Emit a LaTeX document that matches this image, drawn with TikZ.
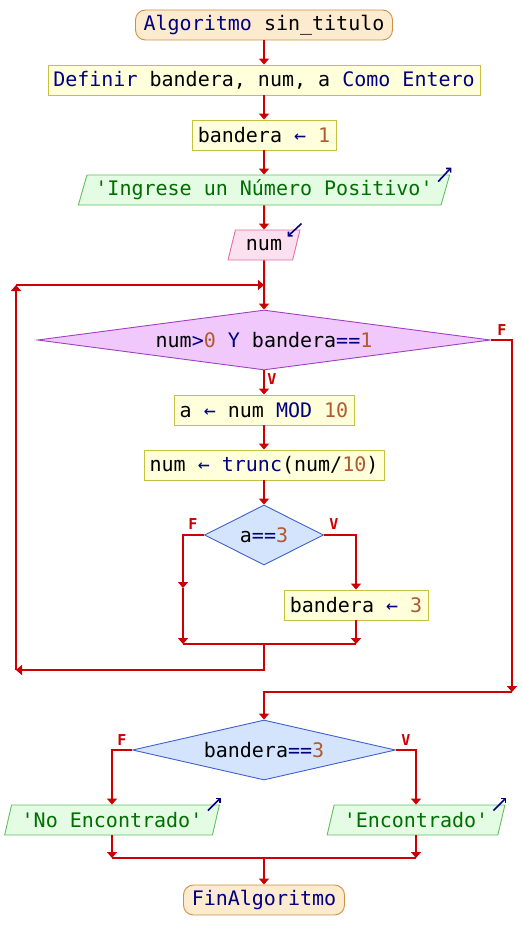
\documentclass[tikz,border=0pt]{standalone}
\usepackage{fontspec}
\setmonofont{DejaVu Sans Mono}
\usepackage{tikz}
\usetikzlibrary{shapes.geometric,arrows.meta,calc}

\definecolor{flujo}{RGB}{204,0,0}
\definecolor{clave}{RGB}{0,0,128}
\definecolor{numero}{RGB}{176,90,48}
\definecolor{cadena}{RGB}{0,110,0}
\newcommand{\kw}[1]{\textcolor{clave}{#1}}
\newcommand{\nm}[1]{\textcolor{numero}{#1}}
\newcommand{\cad}[1]{\textcolor{cadena}{#1}}

\tikzset{
	base/.style={font=\ttfamily\fontsize{20}{20}\selectfont, inner sep=0pt, minimum height=30pt, line width=0.9pt},
	extremo/.style={base, rectangle, rounded corners=10pt, draw={rgb,255:red,208;green,144;blue,64}, fill={rgb,255:red,253;green,235;blue,208}},
	asigna/.style={base, rectangle, draw={rgb,255:red,200;green,192;blue,64}, fill={rgb,255:red,255;green,255;blue,220}},
	salida/.style={base, trapezium, trapezium left angle=68, trapezium right angle=112, trapezium stretches=true, draw={rgb,255:red,96;green,192;blue,96}, fill={rgb,255:red,228;green,252;blue,228}},
	entrada/.style={base, trapezium, trapezium left angle=68, trapezium right angle=112, trapezium stretches=true, draw={rgb,255:red,224;green,112;blue,160}, fill={rgb,255:red,252;green,224;blue,240}},
	mientras/.style={base, diamond, minimum height=60pt, draw={rgb,255:red,160;green,64;blue,192}, fill={rgb,255:red,240;green,200;blue,252}},
	decide/.style={base, diamond, minimum height=60pt, draw={rgb,255:red,64;green,96;blue,208}, fill={rgb,255:red,212;green,228;blue,252}},
	linea/.style={draw=flujo, line width=2pt},
	flecha/.style={linea, -{Triangle[width=10pt,length=6pt]}},
	etiq/.style={text=flujo, font=\ttfamily\bfseries\fontsize{15}{15}\selectfont, inner sep=0pt},
	icono/.style={draw=clave, line width=1.6pt, -{Straight Barb[length=3pt,width=6pt]}}
}

\begin{document}
\begin{tikzpicture}[x=1pt, y=-1pt]
	\useasboundingbox (0,0) rectangle (522,950);

	% bloques
	\node (inicio) [extremo, minimum width=257pt] at (264,25) {\kw{Algoritmo} sin\_titulo};
	\node (defin) [asigna, minimum width=432pt] at (264,80) {\kw{Definir} bandera, num, a \kw{Como} \kw{Entero}};
	\node (asig1) [asigna, minimum width=144pt] at (264,135) {bandera \kw{←} \nm{1}};
	\node (escr1) [salida, minimum width=372pt] at (264,190) {\cad{'Ingrese un Número Positivo'}};
	\node (leer) [entrada, minimum width=72pt] at (264,245) {num};
	\node (mien) [mientras, minimum width=453pt, aspect=7.55] at (264,340) {num\kw{>}\nm{0} \kw{Y} bandera\kw{==}\nm{1}};
	\node (asig2) [asigna, minimum width=180pt] at (264,410) {a \kw{←} num \kw{MOD} \nm{10}};
	\node (asig3) [asigna, minimum width=240pt] at (264,465) {num \kw{←} \kw{trunc}(num/\nm{10})};
	\node (si1) [decide, minimum width=119pt, aspect=2] at (264,535) {a\kw{==}\nm{3}};
	\node (asig4) [asigna, minimum width=144pt] at (356,605) {bandera \kw{←} \nm{3}};
	\node (si2) [decide, minimum width=263pt, aspect=4.38] at (264,750) {bandera\kw{==}\nm{3}};
	\node (noenc) [salida, minimum width=215pt] at (112,820) {\cad{'No Encontrado'}};
	\node (enc) [salida, minimum width=178pt] at (416,820) {\cad{'Encontrado'}};
	\node (fin) [extremo, minimum width=161pt] at (264,900) {\kw{FinAlgoritmo}};

	% etiquetas
	\node (fm) [etiq] at (502,330) {F};
	\node (vm) [etiq] at (272,379) {V};
	\node (f1) [etiq] at (193,524) {F};
	\node (v1) [etiq] at (334,524) {V};
	\node (f2) [etiq] at (122,740) {F};
	\node (v2) [etiq] at (406,740) {V};

	% iconos de entrada/salida
	\draw[icono] ($(escr1.top right corner)+(-12,7)$) -- ++(13,-14);
	\draw[icono] ($(leer.top right corner)+(1,-6)$) -- ++(-14,13);
	\draw[icono] ($(noenc.top right corner)+(-12,6)$) -- ++(13,-13);
	\draw[icono] ($(enc.top right corner)+(-12,6)$) -- ++(13,-13);

	% puntos de union
	\coordinate (lazo) at (264,285);
	\coordinate (arriba) at (16,285);
	\coordinate (abajo) at (16,670);
	\coordinate (cierre) at (264,644);
	\coordinate (fmed) at (183,588);
	\coordinate (fjun) at (183,644);
	\coordinate (vjun) at (356,644);
	\coordinate (sale) at (512,692);
	\coordinate (j1) at (112,858);
	\coordinate (j2) at (416,858);
	\coordinate (jm) at (264,858);

	% conectores
	\draw[flecha] (inicio) -- (defin);
	\draw[flecha] (defin) -- (asig1);
	\draw[flecha] (asig1) -- (escr1);
	\draw[flecha] (escr1) -- (leer);
	\draw[flecha] (leer) -- (mien);
	\draw[flecha] (mien.south) -- (asig2);
	\draw[flecha] (asig2) -- (asig3);
	\draw[flecha] (asig3) -- (si1);
	\draw[flecha] (si1.west) -| (fmed);
	\draw[flecha] (fmed) -- (fjun);
	\draw[flecha] (si1.east) -| (asig4.north);
	\draw[flecha] (asig4) -- (vjun);
	\draw[linea] (fjun) -- (vjun);
	\draw[flecha] (cierre) |- (abajo);
	\draw[flecha] (abajo) -- (arriba);
	\draw[flecha] (arriba) -- (lazo);
	\draw[flecha] (mien.east) -| (sale);
	\draw[flecha] (sale) -| (si2.north);
	\draw[flecha] (si2.west) -| (noenc.north);
	\draw[flecha] (si2.east) -| (enc.north);
	\draw[flecha] (noenc) -- (j1);
	\draw[flecha] (enc) -- (j2);
	\draw[linea] (j1) -- (j2);
	\draw[flecha] (jm) -- (fin);
\end{tikzpicture}
\end{document}
